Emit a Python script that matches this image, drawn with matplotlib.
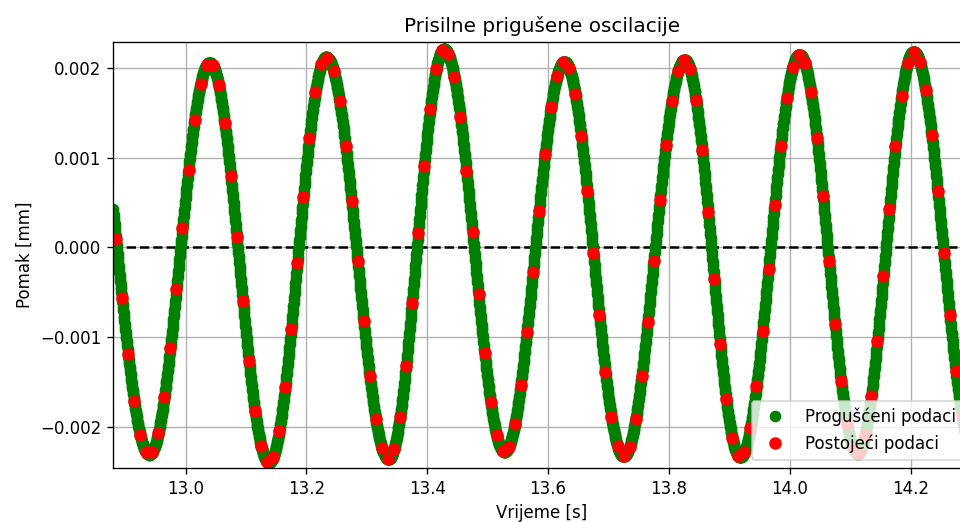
import matplotlib
matplotlib.use('Agg')
import matplotlib.pyplot as plt
import numpy as np

# turning points of the oscillation (time [s], displacement [mm])
extrema_t = [12.836, 12.940, 13.040, 13.138, 13.233, 13.336, 13.428, 13.528,
             13.627, 13.725, 13.826, 13.918, 14.016, 14.112, 14.205, 14.305]
extrema_y = [0.00210, -0.00231, 0.00206, -0.00240, 0.00212, -0.00236, 0.00221, -0.00228,
             0.00207, -0.00233, 0.00209, -0.00234, 0.00215, -0.00230, 0.00218, -0.00230]

# sampling of the two series
t_start, t_end = 12.88, 14.30
dt_dense = 0.0005     # damped (dense) samples
red_start = 12.885
dt_existing = 0.01    # existing samples

title = 'Prisilne prigušene oscilacije'
xlabel = 'Vrijeme [s]'
ylabel = 'Pomak [mm]'
labels = ['Progušćeni podaci', 'Postojeći podaci']


def waveform(t):
    """Half-cosine shape between consecutive turning points"""
    et = np.array(extrema_t)
    ey = np.array(extrema_y)
    i = np.clip(np.searchsorted(et, t, side='right') - 1, 0, len(et) - 2)
    frac = (t - et[i]) / (et[i + 1] - et[i])
    return ey[i] + (ey[i + 1] - ey[i]) * (1 - np.cos(np.pi * frac)) / 2


def main():
    t_dense = np.arange(t_start, t_end, dt_dense)
    t_exist = np.arange(red_start, t_end, dt_existing)

    fig = plt.figure(figsize=(8, 4.35), dpi=120)
    ax = fig.add_axes([113 / 960, 54 / 522, 858 / 960, 426 / 522])

    ax.axhline(0, color='k', linestyle='--', linewidth=1.5)
    ax.plot(t_dense, waveform(t_dense), 'o', color='green', markersize=6,
            label=labels[0])
    ax.plot(t_exist, waveform(t_exist), 'o', color='red', markersize=6.5,
            label=labels[1])

    ax.set_xlim(12.88, 14.30)
    ax.set_ylim(-0.00246, 0.00229)
    ax.set_xticks([13.0, 13.2, 13.4, 13.6, 13.8, 14.0, 14.2])
    ax.set_yticks([-0.002, -0.001, 0.0, 0.001, 0.002])
    ax.grid(True)
    ax.set_title(title)
    ax.set_xlabel(xlabel)
    ax.set_ylabel(ylabel)
    ax.legend(loc='lower right')

    fig.savefig('out.png', dpi=120)
    plt.close(fig)


if __name__ == "__main__":
    main()
